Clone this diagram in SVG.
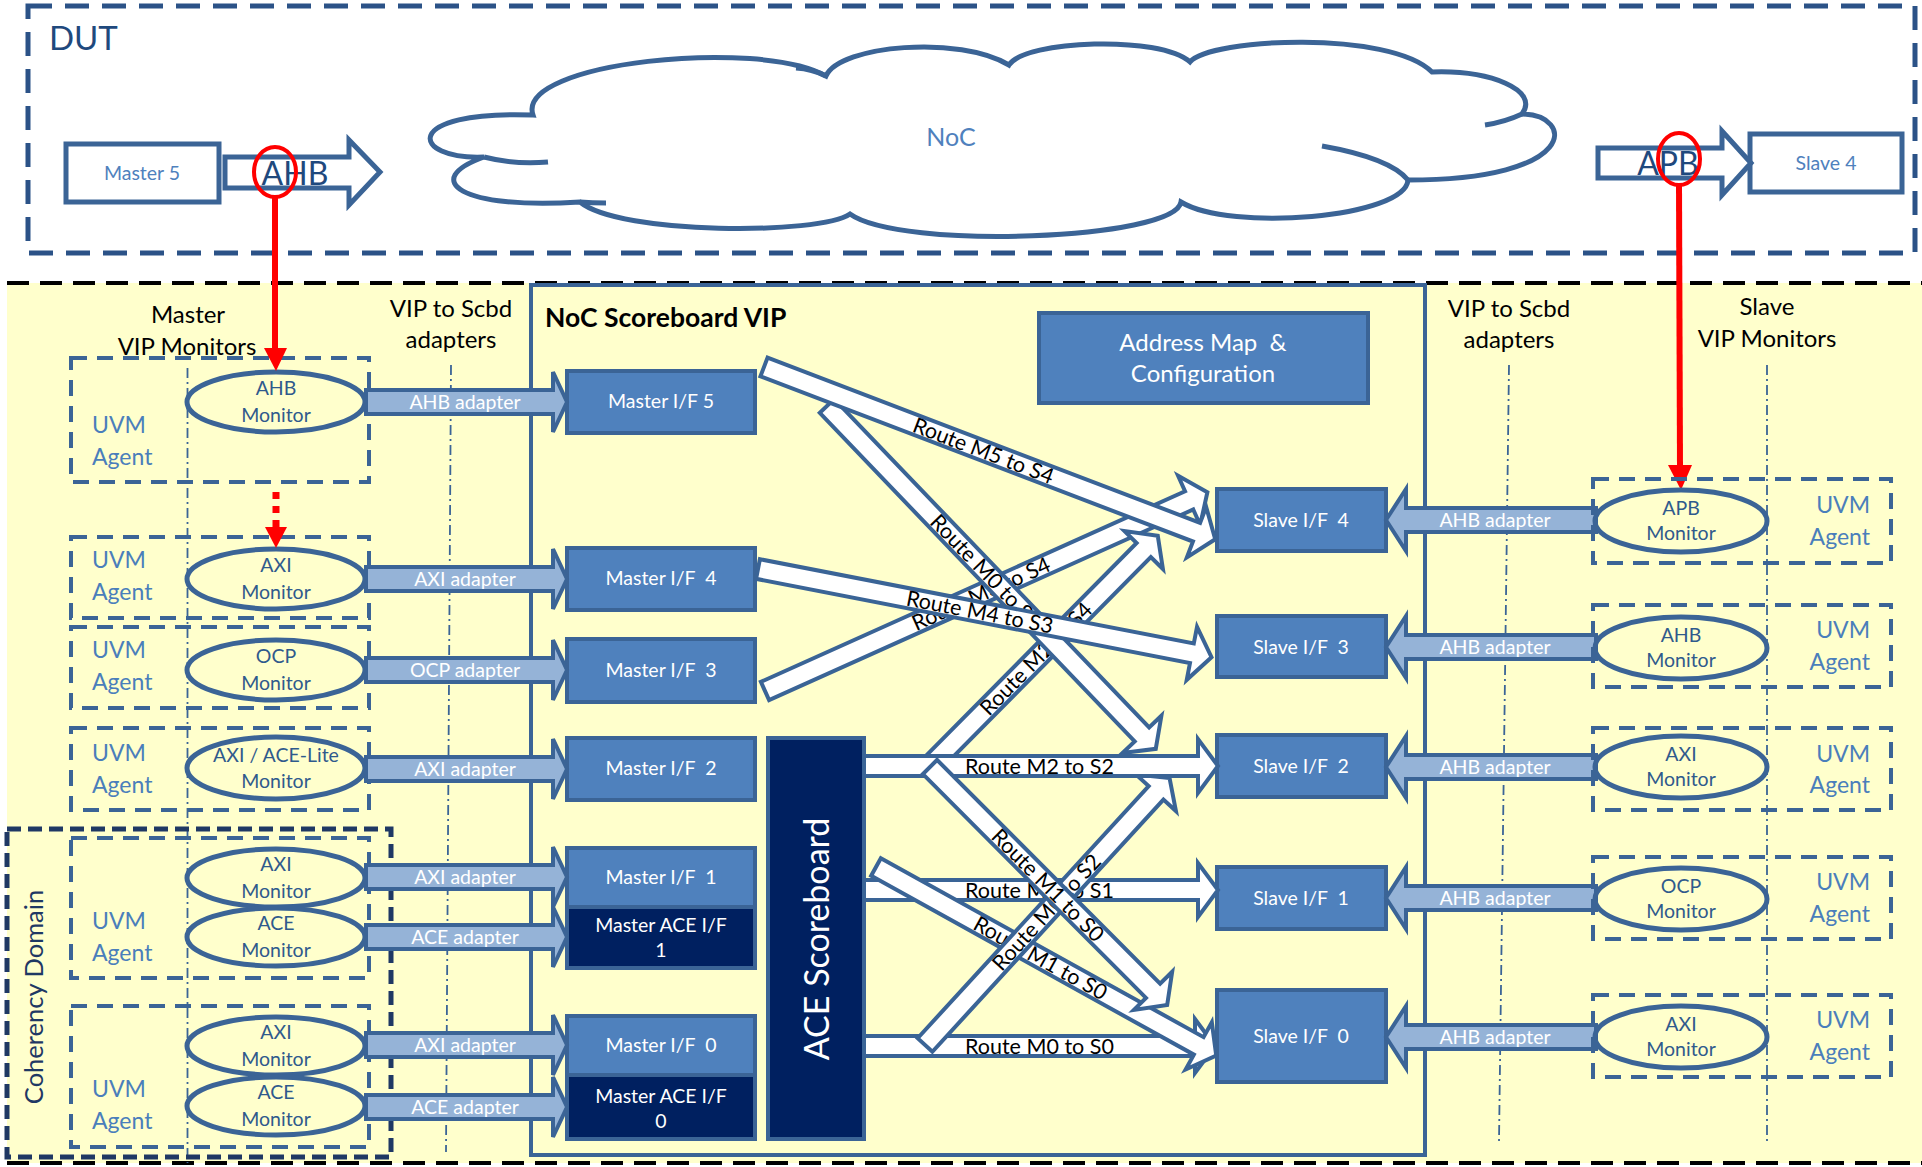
<svg xmlns="http://www.w3.org/2000/svg" width="1922" height="1167" viewBox="0 0 1922 1167">
<defs>
<style>
text{font-family:Lato,"Liberation Sans",sans-serif;white-space:pre}
.agent{fill:none;stroke:#3B6496;stroke-width:4;stroke-dasharray:16 10}
.mon{fill:none;stroke:#3B6496;stroke-width:5}
.ad{fill:#95B3D7;stroke:#3B6496;stroke-width:4}
.ifb{fill:#4F81BD;stroke:#3B6496;stroke-width:4}
.ace{fill:#002060;stroke:#3B6496;stroke-width:4}
.route path{fill:#fff;stroke:#3A6496;stroke-width:4}
.dd{fill:none;stroke:#3B6496;stroke-width:1.8;stroke-dasharray:10 4 2 4}
.uvm{font-size:23px;fill:#4A7EBB}
.uvmr{font-size:23px;fill:#4A7EBB;text-anchor:end}
.mt{font-size:19.5px;fill:#2F5A8C;text-anchor:middle}
.wt{font-size:19.5px;fill:#fff;text-anchor:middle}
.rt{font-size:21.5px;fill:#000}
.rtm{font-size:21.5px;fill:#000;text-anchor:middle}
.hd{font-size:24px;fill:#000;text-anchor:middle}
.red{stroke:#FF0000;stroke-width:6;fill:none}
.dut{fill:none;stroke:#2B5287;stroke-width:5;stroke-dasharray:24 13}
.blk{stroke:#000;stroke-width:4;stroke-dasharray:22 11}
.cloud{fill:#fff;stroke:#3B6496;stroke-width:5}
.hook{fill:none;stroke:#3B6496;stroke-width:5}
</style>
<path id="madp" d="M0,-12 H187 V-30 L201,0 L187,30 V12 H0 Z"/>
<path id="sadp" d="M0,0 L20,-31 V-12 H210 V12 H20 V31 Z"/>
</defs>

<!-- backgrounds -->
<rect x="0" y="0" width="1922" height="1167" fill="#fff"/>
<rect x="7" y="283" width="1915" height="880" fill="#FFFFCC"/>
<line class="blk" x1="7" y1="283" x2="1922" y2="283"/>
<line class="blk" x1="7" y1="1163" x2="1922" y2="1163"/>

<!-- DUT area -->
<g id="dut">
  <rect class="dut" x="28" y="6" width="1887" height="247"/>
  <text x="49" y="50" font-size="33" fill="#1F497D">DUT</text>
</g>
<g id="noc-cloud">
  <path class="cloud" d="M533,115 C515,62 760,38 826,76 C840,45 960,35 1009,65 C1025,40 1160,35 1190,62 C1210,38 1390,30 1432,72 C1490,70 1540,90 1522,114 C1575,115 1580,180 1408,180 C1405,218 1230,232 1181,202 C1175,240 900,250 850,214 C820,235 620,235 580,202 C460,210 420,180 484,157 C410,160 400,110 533,115 Z"/>
  <path class="hook" d="M484,157 Q515,165 548,162 M1522,114 Q1505,122 1485,125 M1322,146 Q1390,158 1408,180 M580,202 Q592,203 606,203 M826,76 Q812,69 796,68"/>
  <text x="951" y="146" font-size="25" fill="#4F81BD" text-anchor="middle">NoC</text>
</g>
<g id="master5">
  <rect x="66" y="144" width="153" height="58" fill="#fff" stroke="#3B6496" stroke-width="5"/>
  <text x="142" y="180" font-size="19.5" fill="#4F81BD" text-anchor="middle">Master 5</text>
</g>
<g id="slave4">
  <rect x="1750" y="134" width="152" height="58" fill="#fff" stroke="#3B6496" stroke-width="5"/>
  <text x="1826" y="170" font-size="19.5" fill="#4F81BD" text-anchor="middle">Slave 4</text>
</g>
<g id="ahb-link">
  <polygon points="225,157 349,157 349,140 380,172 349,205 349,188 225,188" fill="#fff" stroke="#3B6496" stroke-width="5"/>
  <text x="295" y="185" font-size="32" fill="#1F497D" text-anchor="middle">AHB</text>
</g>
<g id="apb-link">
  <polygon points="1598,148 1722,148 1722,131 1751,163 1722,195 1722,178 1598,178" fill="#fff" stroke="#3B6496" stroke-width="5"/>
  <text x="1668" y="175" font-size="32" fill="#1F497D" text-anchor="middle">APB</text>
</g>

<!-- column guides -->
<g id="guides">
  <line class="dd" x1="187.5" y1="368" x2="187.5" y2="1163"/>
  <line class="dd" x1="451" y1="365" x2="446" y2="1152"/>
  <line class="dd" x1="1509" y1="365" x2="1499" y2="1142"/>
  <line class="dd" x1="1767" y1="365" x2="1767" y2="1142"/>
</g>

<!-- column headings -->
<g id="headings">
  <text class="hd" x="188" y="323">Master</text>
  <text class="hd" x="187" y="355">VIP Monitors</text>
  <text class="hd" x="451" y="317">VIP to Scbd</text>
  <text class="hd" x="451" y="348">adapters</text>
  <text class="hd" x="1509" y="317">VIP to Scbd</text>
  <text class="hd" x="1509" y="348">adapters</text>
  <text class="hd" x="1767" y="315">Slave</text>
  <text class="hd" x="1767" y="347">VIP Monitors</text>
</g>

<!-- scoreboard container -->
<g id="noc-scoreboard-vip">
  <rect x="531" y="285" width="894" height="870" fill="none" stroke="#3B6496" stroke-width="4"/>
  <text x="545" y="327" font-size="26.5" font-weight="bold" fill="#000">NoC Scoreboard VIP</text>
</g>
<g id="address-map">
  <rect class="ifb" x="1039" y="313" width="329" height="90"/>
  <text x="1203" y="351" font-size="24" fill="#fff" text-anchor="middle">Address Map  &amp;</text>
  <text x="1203" y="382" font-size="24" fill="#fff" text-anchor="middle">Configuration</text>
</g>

<!-- coherency domain -->
<g id="coherency-domain">
  <rect x="7" y="829" width="384" height="328" fill="none" stroke="#1F3864" stroke-width="5" stroke-dasharray="14 7"/>
  <text transform="translate(43,997) rotate(-90)" font-size="25.5" fill="#1F3864" text-anchor="middle">Coherency Domain</text>
</g>

<!-- master UVM agents -->
<g id="m-agent-5">
  <rect class="agent" x="71" y="358" width="298" height="124"/>
  <text class="uvm" x="92" y="433">UVM</text><text class="uvm" x="92" y="465">Agent</text>
  <ellipse class="mon" cx="276" cy="402" rx="89" ry="30"/>
  <text class="mt" x="276" y="395">AHB</text><text class="mt" x="276" y="422">Monitor</text>
</g>
<g id="m-agent-4">
  <rect class="agent" x="71" y="537" width="298" height="81"/>
  <text class="uvm" x="92" y="568">UVM</text><text class="uvm" x="92" y="600">Agent</text>
  <ellipse class="mon" cx="276" cy="579" rx="89" ry="30"/>
  <text class="mt" x="276" y="572">AXI</text><text class="mt" x="276" y="599">Monitor</text>
</g>
<g id="m-agent-3">
  <rect class="agent" x="71" y="627" width="298" height="81"/>
  <text class="uvm" x="92" y="658">UVM</text><text class="uvm" x="92" y="690">Agent</text>
  <ellipse class="mon" cx="276" cy="670" rx="89" ry="30"/>
  <text class="mt" x="276" y="663">OCP</text><text class="mt" x="276" y="690">Monitor</text>
</g>
<g id="m-agent-2">
  <rect class="agent" x="71" y="728" width="298" height="82"/>
  <text class="uvm" x="92" y="761">UVM</text><text class="uvm" x="92" y="793">Agent</text>
  <ellipse class="mon" cx="276" cy="768" rx="89" ry="31"/>
  <text class="mt" x="276" y="762">AXI / ACE-Lite</text><text class="mt" x="276" y="788">Monitor</text>
</g>
<g id="m-agent-1">
  <rect class="agent" x="71" y="838" width="298" height="140"/>
  <text class="uvm" x="92" y="929">UVM</text><text class="uvm" x="92" y="961">Agent</text>
  <ellipse class="mon" cx="276" cy="878" rx="89" ry="29"/>
  <text class="mt" x="276" y="871">AXI</text><text class="mt" x="276" y="898">Monitor</text>
  <ellipse class="mon" cx="276" cy="937" rx="89" ry="29"/>
  <text class="mt" x="276" y="930">ACE</text><text class="mt" x="276" y="957">Monitor</text>
</g>
<g id="m-agent-0">
  <rect class="agent" x="71" y="1006" width="298" height="141"/>
  <text class="uvm" x="92" y="1097">UVM</text><text class="uvm" x="92" y="1129">Agent</text>
  <ellipse class="mon" cx="276" cy="1046" rx="89" ry="29"/>
  <text class="mt" x="276" y="1039">AXI</text><text class="mt" x="276" y="1066">Monitor</text>
  <ellipse class="mon" cx="276" cy="1106" rx="89" ry="29"/>
  <text class="mt" x="276" y="1099">ACE</text><text class="mt" x="276" y="1126">Monitor</text>
</g>

<!-- master interfaces -->
<g id="master-if-5"><rect class="ifb" x="567" y="371" width="188" height="62"/><text class="wt" x="661" y="408">Master I/F 5</text></g>
<g id="master-if-4"><rect class="ifb" x="567" y="548" width="188" height="62"/><text class="wt" x="661" y="585">Master I/F  4</text></g>
<g id="master-if-3"><rect class="ifb" x="567" y="639" width="188" height="63"/><text class="wt" x="661" y="677">Master I/F  3</text></g>
<g id="master-if-2"><rect class="ifb" x="567" y="738" width="188" height="62"/><text class="wt" x="661" y="775">Master I/F  2</text></g>
<g id="master-if-1"><rect class="ifb" x="567" y="848" width="188" height="59"/><text class="wt" x="661" y="884">Master I/F  1</text></g>
<g id="master-ace-if-1"><rect class="ace" x="567" y="907" width="188" height="61"/><text class="wt" x="661" y="932">Master ACE I/F</text><text class="wt" x="661" y="957">1</text></g>
<g id="master-if-0"><rect class="ifb" x="567" y="1016" width="188" height="59"/><text class="wt" x="661" y="1052">Master I/F  0</text></g>
<g id="master-ace-if-0"><rect class="ace" x="567" y="1075" width="188" height="64"/><text class="wt" x="661" y="1103">Master ACE I/F</text><text class="wt" x="661" y="1128">0</text></g>

<g id="ace-scoreboard">
  <rect class="ace" x="768" y="738" width="96" height="401"/>
  <text transform="translate(829,939) rotate(-90)" font-size="34" fill="#fff" text-anchor="middle">ACE Scoreboard</text>
</g>

<!-- slave interfaces -->
<g id="slave-if-4"><rect class="ifb" x="1217" y="489" width="169" height="62"/><text class="wt" x="1301" y="527">Slave I/F  4</text></g>
<g id="slave-if-3"><rect class="ifb" x="1217" y="616" width="169" height="61"/><text class="wt" x="1301" y="654">Slave I/F  3</text></g>
<g id="slave-if-2"><rect class="ifb" x="1217" y="735" width="169" height="62"/><text class="wt" x="1301" y="773">Slave I/F  2</text></g>
<g id="slave-if-1"><rect class="ifb" x="1217" y="867" width="169" height="62"/><text class="wt" x="1301" y="905">Slave I/F  1</text></g>
<g id="slave-if-0"><rect class="ifb" x="1217" y="990" width="169" height="92"/><text class="wt" x="1301" y="1043">Slave I/F  0</text></g>

<!-- connectors -->
<g id="connectors">
  <!-- master adapters -->
  <use href="#madp" class="ad" x="366" y="402"/>
  <use href="#madp" class="ad" x="366" y="579"/>
  <use href="#madp" class="ad" x="366" y="670"/>
  <use href="#madp" class="ad" x="366" y="769"/>
  <use href="#madp" class="ad" x="366" y="877"/>
  <use href="#madp" class="ad" x="366" y="937"/>
  <use href="#madp" class="ad" x="366" y="1045"/>
  <use href="#madp" class="ad" x="366" y="1107"/>
  <text class="wt" x="465" y="409">AHB adapter</text>
  <text class="wt" x="465" y="586">AXI adapter</text>
  <text class="wt" x="465" y="677">OCP adapter</text>
  <text class="wt" x="465" y="776">AXI adapter</text>
  <text class="wt" x="465" y="884">AXI adapter</text>
  <text class="wt" x="465" y="944">ACE adapter</text>
  <text class="wt" x="465" y="1052">AXI adapter</text>
  <text class="wt" x="465" y="1114">ACE adapter</text>

  <!-- slave adapters -->
  <use href="#sadp" class="ad" x="1386" y="520"/>
  <use href="#sadp" class="ad" x="1386" y="647"/>
  <use href="#sadp" class="ad" x="1386" y="767"/>
  <use href="#sadp" class="ad" x="1386" y="898"/>
  <use href="#sadp" class="ad" x="1386" y="1037"/>
  <text class="wt" x="1495" y="527">AHB adapter</text>
  <text class="wt" x="1495" y="654">AHB adapter</text>
  <text class="wt" x="1495" y="774">AHB adapter</text>
  <text class="wt" x="1495" y="905">AHB adapter</text>
  <text class="wt" x="1495" y="1044">AHB adapter</text>

  <!-- routes through the scoreboard -->
  <g class="route">
    <g transform="translate(864,1046)"><path d="M0,-10 H331 V-27 L351,0 L331,27 V10 H0 Z"/><text class="rt" x="101" y="7.5">Route M0 to S0</text></g>
    <g transform="translate(864,890)"><path d="M0,-10 H334 V-27 L354,0 L334,27 V10 H0 Z"/><text class="rt" x="101" y="7.5">Route M1 to S1</text></g>
    <g transform="translate(876,867) rotate(29)"><path d="M0,-10 H369 V-27 L389,0 L369,27 V10 H0 Z"/><text class="rtm" x="188" y="7.5">Route M1 to S0</text></g>
    <g transform="translate(925,1045) rotate(-47.5)"><path d="M0,-10 H342 V-27 L362,0 L342,27 V10 H0 Z"/><text class="rtm" x="180" y="7.5">Route M0 to S2</text></g>
    <g transform="translate(765,691) rotate(-24.2)"><path d="M0,-10 H465 V-27 L485,0 L465,27 V10 H0 Z"/><text class="rtm" x="237" y="7.5">Route M3 to S4</text></g>
    <g transform="translate(932,764) rotate(-45.3)"><path d="M0,-10 H301 V-27 L321,0 L301,27 V10 H0 Z"/><text class="rtm" x="148" y="7.5">Route M2 to S4</text></g>
    <g transform="translate(827,406) rotate(46.2)"><path d="M0,-10 H455 V-27 L475,0 L455,27 V10 H0 Z"/><text class="rt" x="155" y="7.5">Route M0 to S4</text></g>
    <g transform="translate(764,367) rotate(20.9)"><path d="M0,-10 H463 V-27 L483,0 L463,27 V10 H0 Z"/><text class="rtm" x="235" y="7.5">Route M5 to S4</text></g>
    <g transform="translate(758,569) rotate(11)"><path d="M0,-10 H442 V-27 L462,0 L442,27 V10 H0 Z"/><text class="rtm" x="226" y="7.5">Route M4 to S3</text></g>
    <g transform="translate(864,766)"><path d="M0,-10 H334 V-27 L354,0 L334,27 V10 H0 Z"/><text class="rt" x="101" y="7.5">Route M2 to S2</text></g>
    <g transform="translate(930,767) rotate(45.1)"><path d="M0,-10 H316 V-27 L336,0 L316,27 V10 H0 Z"/><text class="rtm" x="167" y="7.5">Route M1 to S0</text></g>
  </g>

  <!-- probe taps from the DUT ports -->
  <ellipse cx="275" cy="172" rx="21" ry="25" fill="none" stroke="#FF0000" stroke-width="4"/>
  <line class="red" x1="275" y1="197" x2="275" y2="350"/>
  <polygon points="264,348 287,348 276,371" fill="#FF0000"/>
  <line x1="276" y1="492" x2="276" y2="528" stroke="#FF0000" stroke-width="7" stroke-dasharray="7 7"/>
  <polygon points="265,527 287,527 276,548" fill="#FF0000"/>
  <ellipse cx="1679" cy="159" rx="21" ry="26" fill="none" stroke="#FF0000" stroke-width="4"/>
  <line class="red" x1="1679" y1="185" x2="1680" y2="467"/>
  <polygon points="1668,465 1692,465 1681,490" fill="#FF0000"/>
</g>

<!-- slave UVM agents -->
<g id="s-agent-4">
  <rect class="agent" x="1593" y="479" width="298" height="84"/>
  <ellipse class="mon" cx="1681" cy="521" rx="86" ry="31" fill="#FFFFCC"/>
  <text class="mt" x="1681" y="515">APB</text><text class="mt" x="1681" y="540">Monitor</text>
  <text class="uvmr" x="1870" y="513">UVM</text><text class="uvmr" x="1870" y="545">Agent</text>
</g>
<g id="s-agent-3">
  <rect class="agent" x="1593" y="605" width="298" height="82"/>
  <ellipse class="mon" cx="1681" cy="648" rx="86" ry="31"/>
  <text class="mt" x="1681" y="642">AHB</text><text class="mt" x="1681" y="667">Monitor</text>
  <text class="uvmr" x="1870" y="638">UVM</text><text class="uvmr" x="1870" y="670">Agent</text>
</g>
<g id="s-agent-2">
  <rect class="agent" x="1593" y="728" width="298" height="82"/>
  <ellipse class="mon" cx="1681" cy="767" rx="86" ry="31"/>
  <text class="mt" x="1681" y="761">AXI</text><text class="mt" x="1681" y="786">Monitor</text>
  <text class="uvmr" x="1870" y="762">UVM</text><text class="uvmr" x="1870" y="793">Agent</text>
</g>
<g id="s-agent-1">
  <rect class="agent" x="1593" y="857" width="298" height="82"/>
  <ellipse class="mon" cx="1681" cy="899" rx="86" ry="31"/>
  <text class="mt" x="1681" y="893">OCP</text><text class="mt" x="1681" y="918">Monitor</text>
  <text class="uvmr" x="1870" y="890">UVM</text><text class="uvmr" x="1870" y="922">Agent</text>
</g>
<g id="s-agent-0">
  <rect class="agent" x="1593" y="995" width="298" height="82"/>
  <ellipse class="mon" cx="1681" cy="1037" rx="86" ry="31"/>
  <text class="mt" x="1681" y="1031">AXI</text><text class="mt" x="1681" y="1056">Monitor</text>
  <text class="uvmr" x="1870" y="1028">UVM</text><text class="uvmr" x="1870" y="1060">Agent</text>
</g>
</svg>
